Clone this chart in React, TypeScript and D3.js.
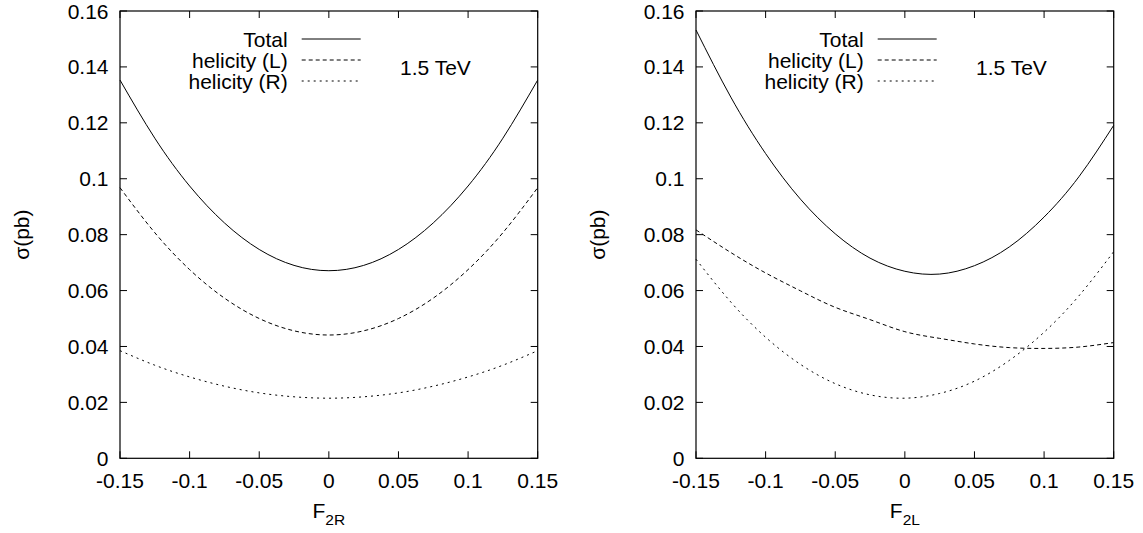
import React from "react";
import * as d3 from "d3";

// ---- data ----
const xValues = [-0.15, -0.125, -0.1, -0.075, -0.05, -0.025, 0, 0.025, 0.05, 0.075, 0.1, 0.125, 0.15];

// Left panel: F2R
const totalF2R = [0.1353, 0.1145, 0.0974, 0.0842, 0.0747, 0.069, 0.0671, 0.069, 0.0747, 0.0842, 0.0974, 0.1145, 0.1353];
const helLF2R = [0.0968, 0.0807, 0.0675, 0.0573, 0.05, 0.0456, 0.0441, 0.0456, 0.05, 0.0573, 0.0675, 0.0807, 0.0968];
const helRF2R = [0.0385, 0.0333, 0.0291, 0.0258, 0.0234, 0.022, 0.0215, 0.022, 0.0234, 0.0258, 0.0291, 0.0333, 0.0385];

// Right panel: F2L
const totalF2L = [0.1532, 0.1292, 0.109, 0.0927, 0.0803, 0.0716, 0.0669, 0.0659, 0.0689, 0.0756, 0.0863, 0.1007, 0.1191];
const helLF2L = [0.0817, 0.0736, 0.0663, 0.0599, 0.054, 0.0496, 0.0453, 0.0429, 0.0409, 0.0396, 0.0393, 0.0398, 0.0414];
const helRF2L = [0.0712, 0.0559, 0.0433, 0.0336, 0.0267, 0.0227, 0.0215, 0.0232, 0.0276, 0.035, 0.0451, 0.0581, 0.0739];

const xTicks = [-0.15, -0.1, -0.05, 0, 0.05, 0.1, 0.15];
const xTickLabels = ["-0.15", "-0.1", "-0.05", "0", "0.05", "0.1", "0.15"];
const yTicks = [0, 0.02, 0.04, 0.06, 0.08, 0.1, 0.12, 0.14, 0.16];
const yTickLabels = ["0", "0.02", "0.04", "0.06", "0.08", "0.1", "0.12", "0.14", "0.16"];

const legendLabels = ["Total", "helicity (L)", "helicity (R)"];
const energyLabel = "1.5 TeV";
const yAxisLabel = "σ(pb)";

const panels = [
  { sub: "2R", series: [totalF2R, helLF2R, helRF2R], left: 120 },
  { sub: "2L", series: [totalF2L, helLF2L, helRF2L], left: 696 },
];

const dashes = [null, "4,3", "2,4"];
const FONT = "'Liberation Sans', Arial, Helvetica, sans-serif";
const FS = 21;

function Panel({ sub, series, left }: { sub: string; series: number[][]; left: number }) {
  const W = 417.7;
  const top = 11;
  const bottom = 458.3;
  const x = d3.scaleLinear().domain([-0.15, 0.15]).range([left, left + W]);
  const y = d3.scaleLinear().domain([0, 0.16]).range([bottom, top]);
  const line = d3
    .line<number>()
    .x((_, i) => x(xValues[i]))
    .y((d) => y(d))
    .curve(d3.curveNatural);
  const tl = 7;
  const cx = left + W / 2;
  return (
    <g>
      {series.map((s, i) => (
        <path
          key={i}
          d={line(s) || ""}
          fill="none"
          stroke="#000"
          strokeWidth={1}
          strokeDasharray={dashes[i] || undefined}
        />
      ))}
      <rect x={left} y={top} width={W} height={bottom - top} fill="none" stroke="#000" strokeWidth={1.2} />
      {xTicks.map((t, i) => (
        <g key={"x" + i}>
          <line x1={x(t)} x2={x(t)} y1={bottom} y2={bottom - tl} stroke="#000" />
          <line x1={x(t)} x2={x(t)} y1={top} y2={top + tl} stroke="#000" />
          <text x={x(t)} y={487.5} textAnchor="middle" fontSize={FS} fontFamily={FONT} fill="#000">
            {xTickLabels[i]}
          </text>
        </g>
      ))}
      {yTicks.map((t, i) => (
        <g key={"y" + i}>
          <line x1={left} x2={left + tl} y1={y(t)} y2={y(t)} stroke="#000" />
          <line x1={left + W} x2={left + W - tl} y1={y(t)} y2={y(t)} stroke="#000" />
          <text x={left - 11.5} y={y(t) + 7.5} textAnchor="end" fontSize={FS} fontFamily={FONT} fill="#000">
            {yTickLabels[i]}
          </text>
        </g>
      ))}
      <text x={cx} y={517.5} textAnchor="middle" fontSize={FS} fontFamily={FONT} fill="#000">
        F
        <tspan fontSize={15.5} dy={7}>
          {sub}
        </tspan>
      </text>
      <text
        transform={`translate(${left - 91},${(top + bottom) / 2}) rotate(-90)`}
        textAnchor="middle"
        fontSize={FS}
        fontFamily={FONT}
        fill="#000"
      >
        {yAxisLabel}
      </text>
      {legendLabels.map((lab, i) => {
        const ly = 39 + i * 21;
        return (
          <g key={"l" + i}>
            <text x={left + 167.7} y={ly + 7.5} textAnchor="end" fontSize={FS} fontFamily={FONT} fill="#000">
              {lab}
            </text>
            <line
              x1={left + 181.7}
              x2={left + 240.7}
              y1={ly}
              y2={ly}
              stroke="#000"
              strokeWidth={1}
              strokeDasharray={dashes[i] || undefined}
            />
          </g>
        );
      })}
      <text x={left + 280} y={74.5} fontSize={FS} fontFamily={FONT} fill="#000">
        {energyLabel}
      </text>
    </g>
  );
}

export default function App() {
  return (
    <svg
      width={1143}
      height={533}
      style={{ position: "absolute", left: 0, top: 0, background: "#fff" }}
    >
      <rect width={1143} height={533} fill="#fff" />
      {panels.map((p, i) => (
        <Panel key={i} sub={p.sub} series={p.series} left={p.left} />
      ))}
    </svg>
  );
}
